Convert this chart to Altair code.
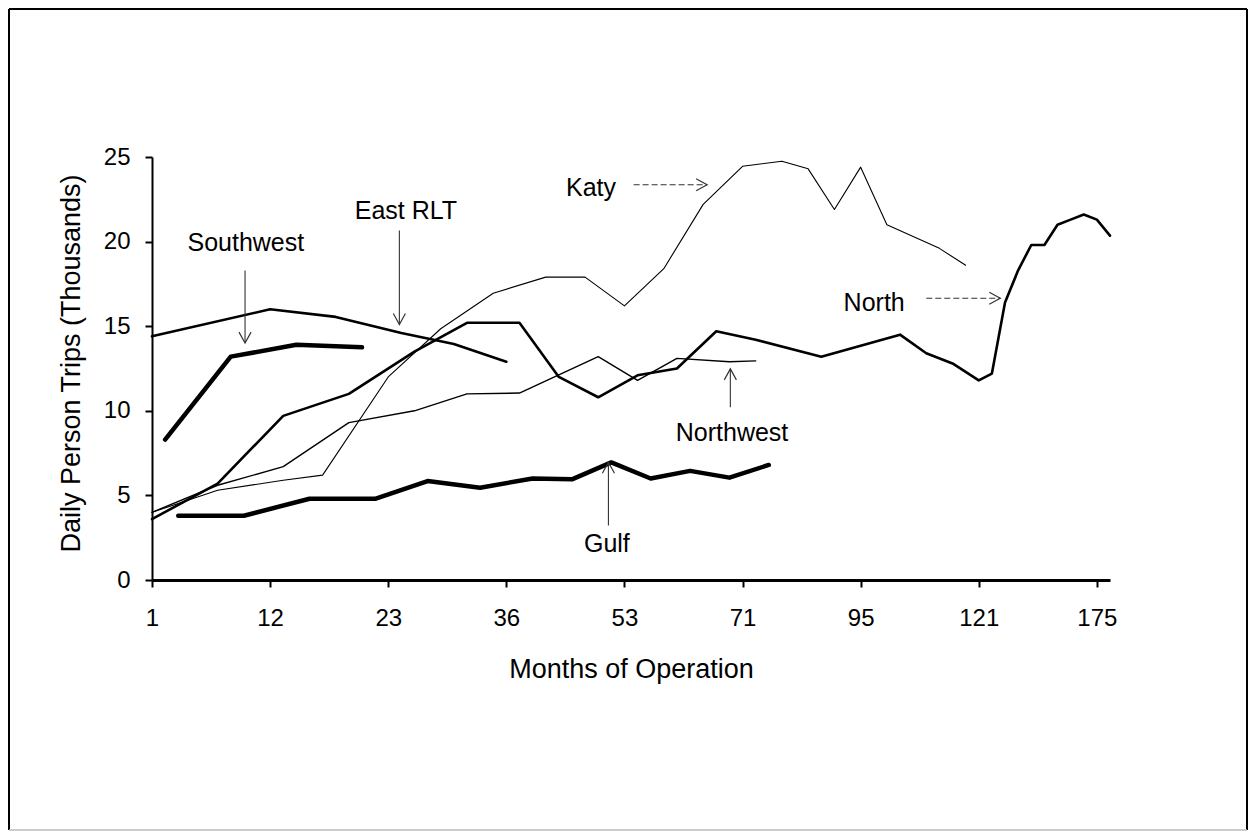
import altair as alt
import pandas as pd

FONT = "Liberation Sans, Arial, Helvetica, sans-serif"

# ---- category axis: tick every 9 categories, labelled with month of operation
month_labels = ["1", "12", "23", "36", "53", "71", "95", "121", "175"]
tick_positions = [0, 9, 18, 27, 36, 45, 54, 63, 72]

# ---- series (category index, daily person trips in thousands)
southwest_idx = [1, 6, 11, 16]
southwest_val = [8.3, 13.2, 13.9, 13.75]

east_idx = [0, 9, 14, 19, 23, 27]
east_val = [14.4, 16.0, 15.55, 14.6, 13.95, 12.9]

katy_idx = [0, 5, 10, 13, 18, 22, 26, 30, 33, 36, 39, 42, 45, 48, 50, 52, 54, 56, 58, 60, 62]
katy_val = [4.0, 5.3, 5.9, 6.2, 12.0, 14.85, 16.95, 17.9, 17.9, 16.2, 18.4, 22.2, 24.45, 24.75,
            24.3, 21.9, 24.4, 21.0, 20.3, 19.6, 18.6]

northwest_idx = [0, 5, 10, 15, 20, 24, 28, 34, 37, 40, 44, 46]
northwest_val = [4.0, 5.6, 6.7, 9.3, 10.0, 11.0, 11.05, 13.2, 11.8, 13.1, 12.9, 12.95]

north_idx = [0, 5, 10, 15, 20, 24, 28, 31, 34, 37, 40, 43, 46, 51, 57, 59, 61, 63, 64, 65, 66,
             67, 68, 69, 70, 71, 72, 73]
north_val = [3.6, 5.7, 9.7, 11.0, 13.5, 15.2, 15.2, 12.0, 10.8, 12.1, 12.5, 14.7, 14.2, 13.2,
             14.5, 13.4, 12.8, 11.8, 12.2, 16.4, 18.3, 19.8, 19.8, 21.0, 21.3, 21.6, 21.3, 20.35]

gulf_idx = [2, 7, 12, 17, 21, 25, 29, 32, 35, 38, 41, 44, 47]
gulf_val = [3.8, 3.8, 4.8, 4.8, 5.85, 5.45, 6.0, 5.95, 6.95, 6.0, 6.45, 6.05, 6.8]

# ---- annotation labels (text, category index, value)
ann_text = ["Southwest", "East RLT", "Katy", "North", "Northwest", "Gulf"]
ann_x = [7.15, 19.35, 33.45, 55.03, 44.2, 34.66]
ann_y = [19.47, 21.35, 22.72, 15.92, 8.24, 1.66]

# ---- arrows (tail -> tip) in data space
arrow_name = ["Southwest", "East RLT", "Katy", "North", "Northwest", "Gulf"]
arrow_x = [7.09, 18.85, 36.7, 59.0, 44.07, 34.78]
arrow_y = [18.29, 20.66, 23.36, 16.65, 10.21, 3.22]
arrow_x2 = [7.09, 18.85, 42.3, 64.64, 44.07, 34.78]
arrow_y2 = [14.0, 15.1, 23.36, 16.65, 12.48, 6.96]

series = [
    ("Southwest", southwest_idx, southwest_val),
    ("East RLT", east_idx, east_val),
    ("Katy", katy_idx, katy_val),
    ("Northwest", northwest_idx, northwest_val),
    ("North", north_idx, north_val),
    ("Gulf", gulf_idx, gulf_val),
]
rows = []
for name, idxs, vals in series:
    for i, v in zip(idxs, vals):
        rows.append({"series": name, "period": i, "trips": v})
df = pd.DataFrame(rows)

ann_df = pd.DataFrame({"label": ann_text, "period": ann_x, "trips": ann_y})
arr_df = pd.DataFrame({"label": arrow_name, "x": arrow_x, "y": arrow_y,
                       "x2": arrow_x2, "y2": arrow_y2})

x_scale = alt.Scale(domain=[0, 73], nice=False, zero=False)
y_scale = alt.Scale(domain=[0, 25], nice=False)

label_expr = "[" + ",".join("'%s'" % m for m in month_labels) + "][round(datum.value / 9)]"

x_axis = alt.Axis(
    values=tick_positions, labelExpr=label_expr, title="Months of Operation",
    grid=False, domainColor="black", domainWidth=3, tickColor="black", tickWidth=2,
    tickSize=7, labelFont=FONT, labelFontSize=24, labelColor="black",
    labelBaseline="alphabetic", labelPadding=38, labelFlush=False,
    titleFont=FONT, titleFontSize=27, titleFontWeight="normal", titleColor="black",
    titleBaseline="alphabetic", titleY=97,
)
y_axis = alt.Axis(
    values=[0, 5, 10, 15, 20, 25], title="Daily Person Trips (Thousands)",
    grid=False, domainColor="black", domainWidth=2, tickColor="black", tickWidth=2,
    tickSize=7, labelFont=FONT, labelFontSize=24, labelColor="black", labelPadding=15,
    labelFlush=False,
    titleFont=FONT, titleFontSize=27, titleFontWeight="normal", titleColor="black",
    titleBaseline="alphabetic", titleX=-73, titleY=206, titleAngle=-90,
)

X = alt.X("period:Q", scale=x_scale, axis=x_axis)
Y = alt.Y("trips:Q", scale=y_scale, axis=y_axis)


def line_layer(names, width):
    return (
        alt.Chart(df)
        .transform_filter(alt.FieldOneOfPredicate(field="series", oneOf=names))
        .mark_line(color="black", strokeWidth=width, strokeJoin="round", strokeCap="round")
        .encode(x=X, y=Y, detail="series:N", order="period:Q")
    )


thick = line_layer(["Southwest", "Gulf"], 4.5)
medium = line_layer(["North", "East RLT"], 2.6)
thin = line_layer(["Katy"], 1.1)
thin2 = line_layer(["Northwest"], 1.4)

texts = alt.Chart(ann_df).mark_text(
    font=FONT, fontSize=25, color="black", align="center", baseline="alphabetic"
).encode(
    x=alt.X("period:Q", scale=x_scale),
    y=alt.Y("trips:Q", scale=y_scale),
    text="label:N",
)


def shaft(names, dash):
    kw = dict(color="#333333", strokeWidth=1.1)
    if dash:
        kw["strokeDash"] = dash
    return (
        alt.Chart(arr_df)
        .transform_filter(alt.FieldOneOfPredicate(field="label", oneOf=names))
        .mark_rule(**kw)
        .encode(
            x=alt.X("x:Q", scale=x_scale), y=alt.Y("y:Q", scale=y_scale),
            x2="x2:Q", y2="y2:Q",
        )
    )


def head(names, path):
    return (
        alt.Chart(arr_df)
        .transform_filter(alt.FieldOneOfPredicate(field="label", oneOf=names))
        .mark_point(shape=path, filled=False, size=484, color="#333333",
                    strokeWidth=1.2, opacity=1)
        .encode(x=alt.X("x2:Q", scale=x_scale), y=alt.Y("y2:Q", scale=y_scale))
    )


solid_shafts = shaft(["Southwest", "East RLT", "Northwest", "Gulf"], None)
dashed_shafts = shaft(["Katy", "North"], [6, 3])
down_heads = head(["Southwest", "East RLT"], "M -0.55 -1 L 0 0 L 0.55 -1")
up_heads = head(["Northwest", "Gulf"], "M -0.55 1 L 0 0 L 0.55 1")
right_heads = head(["Katy", "North"], "M -1 -0.55 L 0 0 L -1 0.55")

# ---- outer frame of the figure
one = pd.DataFrame({"k": [0]})
frame_left = alt.Chart(one).mark_rule(color="black", strokeWidth=2).encode(
    x=alt.value(-143), y=alt.value(-148), y2=alt.value(673))
frame_right = alt.Chart(one).mark_rule(color="black", strokeWidth=2).encode(
    x=alt.value(1095), y=alt.value(-148), y2=alt.value(673))
frame_top = alt.Chart(one).mark_rule(color="black", strokeWidth=2).encode(
    y=alt.value(-148), x=alt.value(-143), x2=alt.value(1095))
frame_bottom = alt.Chart(one).mark_rule(color="#bbbbbb", strokeWidth=1.5).encode(
    y=alt.value(673), x=alt.value(-143), x2=alt.value(1095))

chart = alt.layer(
    thin, thin2, medium, thick,
    solid_shafts, dashed_shafts, down_heads, up_heads, right_heads,
    texts,
    frame_left, frame_right, frame_top, frame_bottom,
).properties(
    width=958, height=423,
    padding={"left": 144, "top": 149, "right": 138, "bottom": 251},
    autosize=alt.AutoSizeParams(type="none"),
    background="white",
).configure_view(stroke=None)

chart.save("out.html", embed_options={"renderer": "svg", "actions": False})
